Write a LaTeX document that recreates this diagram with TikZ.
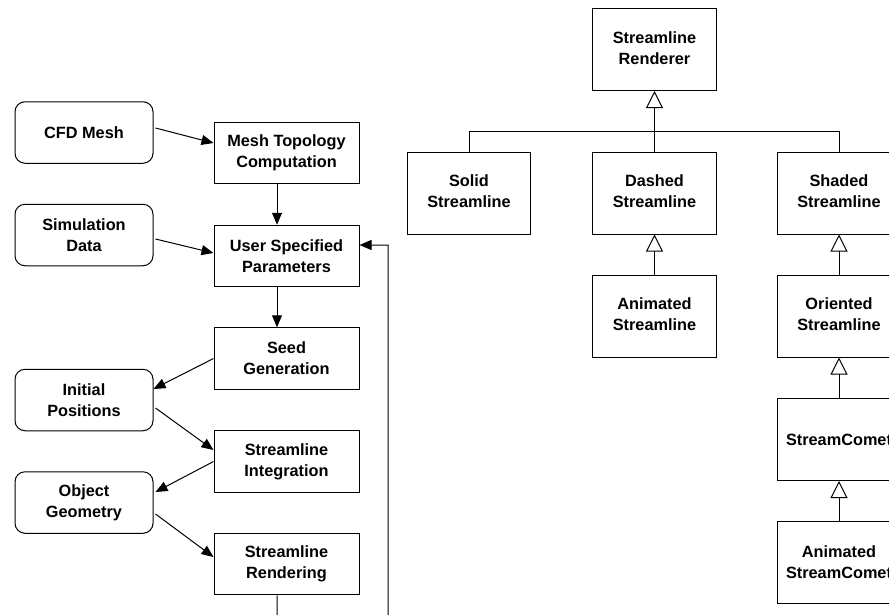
\documentclass[tikz,border=0pt]{standalone}
\usepackage{fontspec}
\setmainfont{Liberation Sans}
\usetikzlibrary{arrows.meta,calc}
\newcommand{\uptext}[1]{\raisebox{4.5pt}{\begin{tabular}{@{}c@{}}#1\end{tabular}}}
\begin{document}
\begin{tikzpicture}[x=1pt,y=-1pt,
  every node/.style={font=\fontsize{16.3}{21}\selectfont\bfseries, align=center, inner sep=0pt},
  src/.style={draw, line width=1pt, rounded corners=10pt, minimum width=138pt, minimum height=61.5pt},
  proc/.style={draw, line width=1pt, minimum width=145pt, minimum height=61.5pt},
  cls/.style={draw, line width=1pt, minimum width=123.5pt, minimum height=82pt},
  flow/.style={line width=1pt, -{Triangle[length=12pt,width=10pt]}},
  inherit/.style={line width=1pt, -{Triangle[open,length=17pt,width=17pt]}},
  plain/.style={line width=1pt}]
\useasboundingbox (0,0) rectangle (889,614);
\clip (0,0) rectangle (889,614);
\fill[white] (0,0) rectangle (889,614);

% left: data sources
\node[src] (cfd) at (84,132.5) {CFD Mesh};
\node[src] (sim) at (84,235) {Simulation\\Data};
\node[src] (init) at (84,400) {Initial\\Positions};
\node[src] (og) at (84,502.5) {Object\\Geometry};

% processes
\node[proc] (mtc) at (286.5,153) {Mesh Topology\\Computation};
\node[proc] (usp) at (286.5,256) {User Specified\\Parameters};
\node[proc] (seed) at (286.5,358.5) {Seed\\Generation};
\node[proc] (si) at (286.5,461.5) {Streamline\\Integration};
\node[proc] (sr) at (286.5,564) {Streamline\\Rendering};

\draw[flow] ($(cfd.east)+(2,-4.5)$) -- ($(mtc.west)+(0,-10)$);
\draw[flow] ($(sim.east)+(2,4)$) -- ($(usp.west)+(0,-3)$);
\draw[flow] ($(mtc.south)+(-9.5,0)$) -- ($(usp.north)+(-9.5,0)$);
\draw[flow] ($(usp.south)+(-9.5,0)$) -- ($(seed.north)+(-9.5,0)$);
\draw[flow] (seed.west) -- ($(init.east)+(0,-11)$);
\draw[flow] ($(init.east)+(2,8)$) -- ($(si.west)+(0,-11.5)$);
\draw[flow] (si.west) -- ($(og.east)+(2,-10.5)$);
\draw[flow] ($(og.east)+(2,11.5)$) -- ($(sr.west)+(0,-7)$);
\coordinate (loopa) at ($(sr.south)+(-9.5,45)$);
\coordinate (loopb) at (388,640);
\draw[flow] ($(sr.south)+(-9.5,0)$) -- (loopa) -- (loopb) |- ($(usp.east)+(0,-11)$);

% right: class hierarchy
\node[cls] (ren) at (654.5,49.5) {\uptext{Streamline\\Renderer}};
\node[cls] (solid) at (469,193) {\uptext{Solid\\Streamline}};
\node[cls] (dashed) at (654.5,193) {\uptext{Dashed\\Streamline}};
\node[cls] (shaded) at (839,193) {\uptext{Shaded\\Streamline}};
\node[cls] (anim) at (654.5,316) {\uptext{Animated\\Streamline}};
\node[cls] (orient) at (839,316) {\uptext{Oriented\\Streamline}};
\node[cls] (comet) at (839,439.5) {StreamComet};
\node[cls] (acomet) at (839,562.5) {Animated\\StreamComet};

\draw[inherit] (dashed.north) -- (ren.south);
\draw[plain] (solid.north) -- ++(0,-20) -| (shaded.north);
\draw[inherit] (anim.north) -- (dashed.south);
\draw[inherit] (orient.north) -- (shaded.south);
\draw[inherit] (comet.north) -- (orient.south);
\draw[inherit] (acomet.north) -- (comet.south);
\end{tikzpicture}
\end{document}
